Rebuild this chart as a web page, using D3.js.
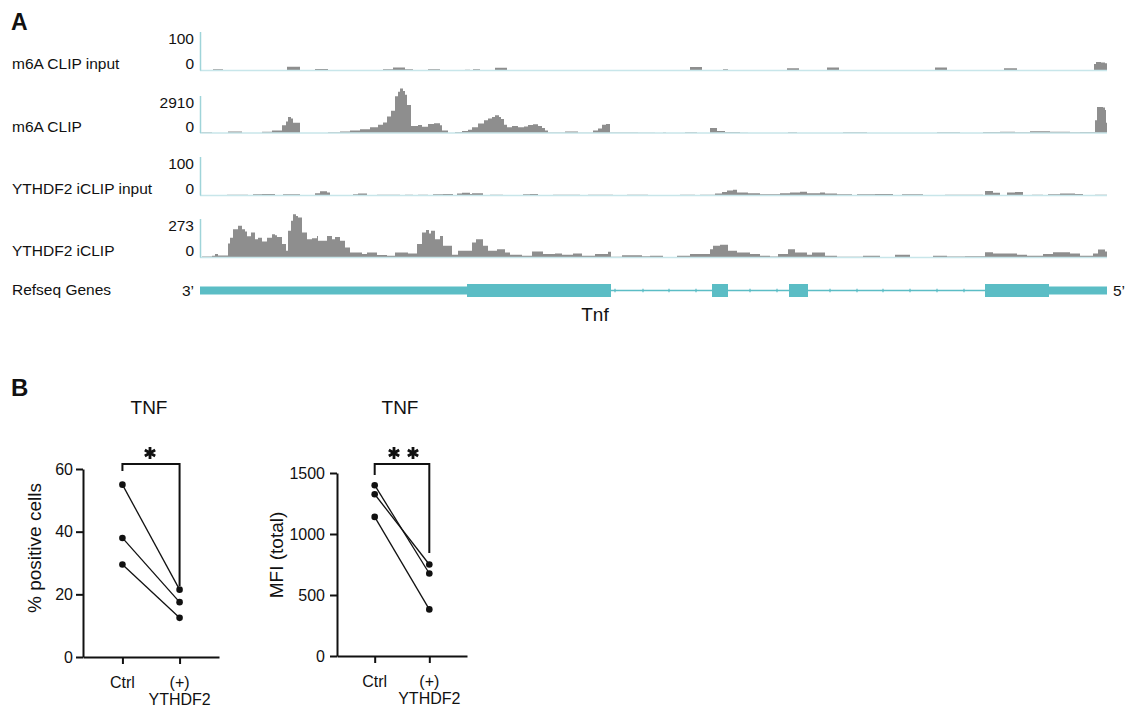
<!DOCTYPE html>
<html lang="en">
<head>
<meta charset="UTF-8">
<title>Tnf CLIP tracks and TNF expression</title>
<script src="https://d3js.org/d3.v7.min.js"></script>
<style>
  body { margin: 0; background: #fff; font-family: "Liberation Sans", Arial, sans-serif; }
  svg text { fill: #111; }
</style>
</head>
<body>
<div id="chart"></div>
<script>
// ---------- panel A data: coverage along the Tnf locus (position units 0..907) ----------
const locus = [0, 907];

// step data: [start position, value] - value holds until the next start
const m6aInput = [[0,0],[13,3],[23,0],[87,10],[100,0],[115,4],[128,0],[183,3],[193,8],[205,3],[213,0],[228,3],[240,0],[265,2],[270,0],[273,3],[280,0],[295,7],[307,0],[490,9],[502,0],[523,3],[528,0],[587,6],[599,0],[627,8],[639,0],[735,8],[747,0],[804,6],[817,0],[894,17],[896,22],[901,21],[905,19],[907,0]];

const m6aClip = [[0,30],[2,60],[12,0],[28,120],[42,0],[62,100],[72,200],[82,600],[86,900],[88,1250],[91,1150],[93,800],[100,0],[128,60],[140,120],[150,200],[160,300],[170,450],[178,650],[183,820],[187,1300],[191,1750],[195,2900],[198,3250],[200,3500],[203,3300],[205,3000],[207,2200],[211,550],[218,620],[222,500],[228,700],[234,760],[240,600],[242,200],[248,0],[255,80],[262,150],[268,250],[272,450],[278,750],[284,1000],[288,1150],[292,1250],[295,1400],[299,1250],[301,1100],[304,650],[307,450],[312,550],[318,450],[324,520],[328,620],[333,680],[338,560],[342,400],[345,200],[348,30],[365,120],[378,20],[393,200],[398,350],[402,650],[406,700],[410,40],[438,20],[455,0],[463,40],[466,0],[485,50],[497,0],[510,400],[517,150],[525,80],[540,20],[548,0],[588,50],[597,0],[643,50],[667,0],[737,50],[760,0],[783,70],[800,90],[815,60],[830,140],[850,90],[870,60],[880,80],[893,70],[895,1000],[897,2050],[903,2000],[905,1800],[906,800],[907,0]];

const ythInput = [[0,0],[27,2],[48,0],[53,3],[62,4],[75,0],[83,3],[100,0],[115,6],[120,11],[127,8],[130,0],[153,3],[158,5],[167,0],[177,2],[200,0],[205,2],[213,0],[218,2],[228,0],[233,3],[243,4],[253,0],[257,5],[262,7],[270,4],[272,6],[283,0],[290,2],[303,0],[323,3],[330,4],[338,0],[353,2],[380,0],[388,2],[413,0],[427,2],[448,0],[480,2],[495,0],[500,2],[515,5],[522,9],[527,13],[533,15],[537,8],[548,6],[560,3],[580,6],[590,8],[600,10],[607,6],[620,8],[625,5],[637,3],[652,0],[657,3],[675,4],[693,0],[702,3],[723,0],[745,2],[783,0],[785,12],[793,7],[800,0],[807,8],[815,9],[823,0],[832,2],[843,0],[848,3],[860,5],[875,4],[883,0],[895,2],[907,0]];

const ythClip = [[0,3],[2,7],[12,12],[15,24],[18,14],[28,100],[30,140],[33,200],[38,225],[42,200],[45,185],[47,150],[51,177],[55,130],[58,140],[62,113],[67,140],[72,165],[75,158],[77,146],[82,95],[86,47],[88,190],[91,260],[93,306],[96,295],[98,283],[102,177],[107,130],[112,137],[117,153],[118,118],[127,153],[132,130],[135,146],[140,118],[145,71],[150,35],[162,24],[167,35],[177,17],[187,12],[195,35],[208,28],[217,95],[222,177],[226,195],[229,170],[231,190],[235,130],[240,153],[243,83],[252,19],[258,47],[272,106],[276,130],[283,83],[288,47],[297,59],[305,35],[310,19],[322,12],[332,42],[343,24],[355,28],[362,19],[373,28],[382,12],[395,24],[408,40],[411,5],[422,16],[442,9],[450,12],[463,3],[477,12],[490,24],[510,59],[513,83],[520,90],[528,47],[537,35],[550,24],[560,12],[570,7],[578,24],[588,59],[595,35],[607,19],[612,35],[625,12],[637,5],[663,12],[680,3],[695,19],[710,3],[733,12],[747,7],[765,9],[785,38],[793,28],[817,19],[827,12],[843,24],[853,38],[870,28],[880,12],[893,28],[898,57],[905,42],[907,0]];

const trackLabels = ["m6A CLIP input", "m6A CLIP", "YTHDF2 iCLIP input", "YTHDF2 iCLIP"];
const trackMax = [100, 2910, 100, 273];
const trackData = [m6aInput, m6aClip, ythInput, ythClip];

// gene model segments [start, end, kind]
const geneParts = [[0,267,"utr"],[267,411,"cds"],[411,512,"intron"],[512,528,"cds"],[528,589,"intron"],[589,608,"cds"],[608,785,"intron"],[785,849,"cds"],[849,907,"utr"]];
const intronTicks = [415,443,469,496,550,577,630,657,683,710,737,764];

// ---------- panel B data ----------
const groups = ["Ctrl", "(+)"];
const pctPositive = [[55,21.5],[38,17.5],[29.5,12.5]];
const mfiTotal = [[1400,676],[1326,750],[1140,382]];
const pctTicks = [0, 20, 40, 60];
const mfiTicks = [0, 500, 1000, 1500];

// ---------- drawing ----------
const width = 1129, height = 707;
const svg = d3.select("#chart").append("svg")
    .attr("width", width).attr("height", height);

const teal = "#5bbdc5";
const axisTeal = "#9fd4d9";
const grey = "#8e8e8e";
const fsA = "15.5px";

// panel letters
svg.append("text").attr("x", 11).attr("y", 30).text("A")
    .style("font-size", "23px").style("font-weight", "bold");
svg.append("text").attr("x", 11).attr("y", 396).text("B")
    .style("font-size", "24px").style("font-weight", "bold");

const x = d3.scaleLinear().domain(locus).range([200, 1107]);

// track layout (top of scale, baseline)
const trackTop = [32, 96, 157, 219];
const trackBase = [70.5, 133, 195.5, 257.5];

trackData.forEach((data, i) => {
    const y = d3.scaleLinear().domain([0, trackMax[i]]).range([trackBase[i], trackTop[i]]);
    const g = svg.append("g");

    g.append("path")
        .datum(data)
        .attr("fill", grey)
        .attr("d", d3.area()
            .x(d => x(d[0]))
            .y0(trackBase[i])
            .y1(d => y(d[1]))
            .curve(d3.curveStepAfter));

    // baseline
    g.append("line")
        .attr("x1", x(locus[0])).attr("x2", x(locus[1]))
        .attr("y1", trackBase[i]).attr("y2", trackBase[i])
        .attr("stroke", "#c8e6ea").attr("stroke-width", 1.5);

    // vertical data-range bar
    g.append("line")
        .attr("x1", 200.5).attr("x2", 200.5)
        .attr("y1", trackTop[i]).attr("y2", trackBase[i])
        .attr("stroke", axisTeal).attr("stroke-width", 1.5);

    g.append("text").attr("x", 194).attr("y", trackTop[i] + 11.5)
        .attr("text-anchor", "end").style("font-size", fsA).text(trackMax[i]);
    g.append("text").attr("x", 194).attr("y", trackBase[i] - 1.5)
        .attr("text-anchor", "end").style("font-size", fsA).text(0);
    g.append("text").attr("x", 12).attr("y", trackBase[i] - 1.5)
        .style("font-size", fsA).text(trackLabels[i]);
});

// gene model
const geneY = 290.5;
const gene = svg.append("g");
gene.append("text").attr("x", 12).attr("y", 295).style("font-size", fsA).text("Refseq Genes");
gene.append("text").attr("x", 194).attr("y", 296).attr("text-anchor", "end").style("font-size", fsA).text("3\u2019");
gene.append("text").attr("x", 1113).attr("y", 296).style("font-size", fsA).text("5\u2019");

gene.selectAll("line.intron")
    .data(geneParts.filter(d => d[2] === "intron"))
    .join("line").attr("class", "intron")
    .attr("x1", d => x(d[0])).attr("x2", d => x(d[1]))
    .attr("y1", geneY).attr("y2", geneY)
    .attr("stroke", teal).attr("stroke-width", 1.3);

gene.selectAll("line.tick")
    .data(intronTicks)
    .join("line").attr("class", "tick")
    .attr("x1", d => x(d)).attr("x2", d => x(d))
    .attr("y1", geneY - 1.8).attr("y2", geneY + 1.8)
    .attr("stroke", teal).attr("stroke-width", 1.2);

gene.selectAll("rect")
    .data(geneParts.filter(d => d[2] !== "intron"))
    .join("rect")
    .attr("x", d => x(d[0]))
    .attr("width", d => x(d[1]) - x(d[0]))
    .attr("y", d => d[2] === "cds" ? geneY - 6.5 : geneY - 4)
    .attr("height", d => d[2] === "cds" ? 13 : 8)
    .attr("fill", teal);

gene.append("text").attr("x", 595).attr("y", 321).attr("text-anchor", "middle")
    .style("font-size", "19px").text("Tnf");

// ---------- panel B: paired dot plots ----------
function pairedPlot(opts) {
    const g = svg.append("g");
    const yS = d3.scaleLinear().domain([0, opts.max]).range([opts.y0, opts.y1]);
    const xS = d3.scalePoint().domain(groups).range([opts.xa, opts.xb]).padding(0.69);

    const yAxis = g.append("g")
        .attr("transform", `translate(${opts.xa},0)`)
        .call(d3.axisLeft(yS).tickValues(opts.ticks).tickFormat(d3.format("d"))
            .tickSize(7).tickSizeOuter(0).tickPadding(opts.pad));
    const xAxis = g.append("g")
        .attr("transform", `translate(0,${opts.y0})`)
        .call(d3.axisBottom(xS).tickSize(7).tickSizeOuter(0).tickFormat(""));
    [yAxis, xAxis].forEach(a => {
        a.attr("font-size", null).attr("font-family", null);
        a.selectAll("path, line").attr("stroke", "#111").attr("stroke-width", 2);
        a.selectAll("text").style("font-size", "16px").attr("fill", "#111");
    });

    // category labels
    g.append("text").attr("x", xS("Ctrl")).attr("y", opts.y0 + 31)
        .attr("text-anchor", "middle").style("font-size", "16px").text("Ctrl");
    const t = g.append("text").attr("x", xS("(+)")).attr("y", opts.y0 + 31)
        .attr("text-anchor", "middle").style("font-size", "16px");
    t.append("tspan").text("(+)");
    t.append("tspan").attr("x", xS("(+)")).attr("dy", 16.5).text("YTHDF2");

    // title + y label
    g.append("text").attr("x", (opts.xa + opts.xb) / 2 - 2).attr("y", 414)
        .attr("text-anchor", "middle").style("font-size", "19px").text("TNF");
    g.append("text")
        .attr("transform", `translate(${opts.labelX},${opts.labelY}) rotate(-90)`)
        .attr("text-anchor", "middle").style("font-size", "19px").text(opts.yLabel);

    // significance bracket
    const bTop = 464;
    g.append("path")
        .attr("d", `M${xS("Ctrl")},${yS(opts.max) + 2}V${bTop}H${xS("(+)")}V${opts.bracketEnd}`)
        .attr("fill", "none").attr("stroke", "#111").attr("stroke-width", 2);
    const starSym = d3.symbol().type(d3.symbolAsterisk).size(100);
    g.selectAll("path.star")
        .data(opts.stars)
        .join("path").attr("class", "star")
        .attr("transform", d => `translate(${d},453)`)
        .attr("d", starSym())
        .attr("fill", "none").attr("stroke", "#111").attr("stroke-width", 2.8);

    // paired lines and dots
    const line = d3.line().x((d, i) => xS(groups[i])).y(d => yS(d));
    g.selectAll("path.pair")
        .data(opts.values)
        .join("path").attr("class", "pair")
        .attr("d", line)
        .attr("fill", "none").attr("stroke", "#111").attr("stroke-width", 1.3);
    g.selectAll("circle")
        .data(opts.values.flatMap(v => v.map((val, i) => [groups[i], val])))
        .join("circle")
        .attr("cx", d => xS(d[0])).attr("cy", d => yS(d[1]))
        .attr("r", 3.3).attr("fill", "#111");
}

pairedPlot({
    values: pctPositive, max: 60, ticks: pctTicks, pad: 3,
    xa: 83, xb: 219, y0: 657, y1: 469,
    yLabel: "% positive cells", labelX: 41, labelY: 548,
    bracketEnd: 586, stars: [150]
});

pairedPlot({
    values: mfiTotal, max: 1500, ticks: mfiTicks, pad: 5,
    xa: 337, xb: 467, y0: 656, y1: 473,
    yLabel: "MFI (total)", labelX: 283, labelY: 555,
    bracketEnd: 553, stars: [394, 413]
});
</script>
</body>
</html>
